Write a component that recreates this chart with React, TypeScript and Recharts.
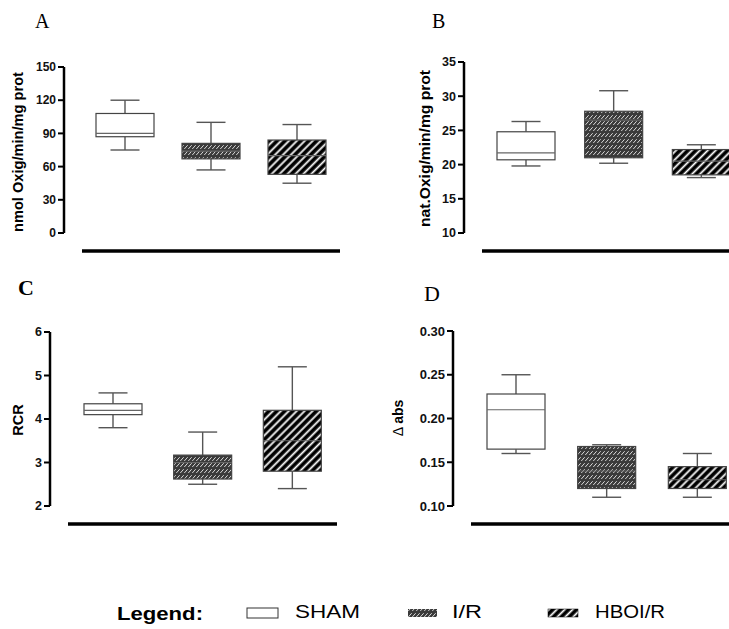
import React from "react"
import { ComposedChart, Bar, XAxis, YAxis } from "recharts"

const GROUPS = ["SHAM", "I/R", "HBOI/R"]

// five-number summaries: [min, q1, median, q3, max]
const A_SHAM = [75, 87, 90, 108, 120]
const A_IR = [57, 67, 74, 81, 100]
const A_HBOIR = [45, 53, 70, 84, 98]

const B_SHAM = [19.8, 20.7, 21.7, 24.8, 26.3]
const B_IR = [20.2, 21, 26.5, 27.8, 30.8]
const B_HBOIR = [18.1, 18.5, 20.5, 22.2, 22.9]

const C_SHAM = [3.8, 4.1, 4.2, 4.35, 4.6]
const C_IR = [2.5, 2.62, 3.0, 3.17, 3.7]
const C_HBOIR = [2.4, 2.8, 3.5, 4.2, 5.2]

const D_SHAM = [0.16, 0.165, 0.21, 0.228, 0.25]
const D_IR = [0.11, 0.12, 0.14, 0.168, 0.17]
const D_HBOIR = [0.11, 0.12, 0.13, 0.145, 0.16]

const A_TICKS = [0, 30, 60, 90, 120, 150]
const B_TICKS = [10, 15, 20, 25, 30, 35]
const C_TICKS = [2, 3, 4, 5, 6]
const D_TICKS = [0.1, 0.15, 0.2, 0.25, 0.3]

const FILLS: Record<string, string> = {
  SHAM: "#ffffff",
  "I/R": "url(#pat-ir)",
  "HBOI/R": "url(#pat-hboir)",
}

// the y axis sits this far left of the plot, the x bar this far below it
const AXIS_GAP = 18

const sans = "Liberation Sans, Arial, sans-serif"
const serif = "Liberation Serif, Times New Roman, serif"

const toRows = (sets: number[][]) =>
  GROUPS.map((group, i) => {
    const [min, q1, med, q3, max] = sets[i]
    return { group, min, q1, med, q3, max, box: [q1, q3] }
  })

function BoxShape(props: any) {
  const { x, y, width, height, payload } = props
  const top = Math.min(y, y + height)
  const h = Math.abs(height)
  const k = h / (payload.q3 - payload.q1)
  const cx = x + width / 2
  const yMax = top - (payload.max - payload.q3) * k
  const yMin = top + h + (payload.q1 - payload.min) * k
  const yMed = top + (payload.q3 - payload.med) * k
  const cap = width * 0.25
  const ws = { stroke: "#555", strokeWidth: 1.4 }
  return (
    <g>
      <line x1={cx} x2={cx} y1={yMax} y2={top} {...ws} />
      <line x1={cx} x2={cx} y1={top + h} y2={yMin} {...ws} />
      <line x1={cx - cap} x2={cx + cap} y1={yMax} y2={yMax} {...ws} />
      <line x1={cx - cap} x2={cx + cap} y1={yMin} y2={yMin} {...ws} />
      <rect x={x} y={top} width={width} height={h} fill={FILLS[payload.group]} stroke="#444" strokeWidth={1.2} />
      <line x1={x} x2={x + width} y1={yMed} y2={yMed} stroke="#666" strokeWidth={1.2} />
    </g>
  )
}

interface PanelProps {
  rows: any[]
  ticks: number[]
  left: number
  top: number
  width: number
  height: number
  axisWidth: number
  margin: { top: number; right: number; bottom: number; left: number }
  fontSize: number
  fmt?: (v: number) => string
}

function BoxPanel({ rows, ticks, left, top, width, height, axisWidth, margin, fontSize, fmt }: PanelProps) {
  const renderTick = (p: any) => (
    <text
      x={p.x - AXIS_GAP}
      y={p.y}
      dy="0.355em"
      textAnchor="end"
      fill="#111"
      fontSize={fontSize}
      fontWeight="bold"
      fontFamily={sans}
    >
      {fmt ? fmt(p.payload.value) : p.payload.value}
    </text>
  )
  return (
    <div style={{ position: "absolute", left, top }}>
      <ComposedChart width={width} height={height} data={rows} margin={margin}>
        <XAxis
          dataKey="group"
          height={1}
          tick={false}
          tickLine={false}
          axisLine={{ stroke: "#000", strokeWidth: 3.5 }}
        />
        <YAxis
          type="number"
          width={axisWidth}
          domain={[ticks[0], ticks[ticks.length - 1]]}
          ticks={ticks}
          interval={0}
          tickSize={6}
          tickMargin={2}
          axisLine={{ stroke: "#000", strokeWidth: 2.5 }}
          tickLine={{ stroke: "#000", strokeWidth: 2 }}
          tick={renderTick}
        />
        <Bar dataKey="box" barSize={58} shape={<BoxShape />} isAnimationActive={false} />
      </ComposedChart>
    </div>
  )
}

export default function App() {
  return (
    <div
      style={{
        position: "fixed",
        left: 0,
        top: 0,
        width: 729,
        height: 629,
        overflow: "hidden",
        background: "#fff",
      }}
    >
      <style>{`.recharts-yAxis .recharts-cartesian-axis-line, .recharts-yAxis .recharts-cartesian-axis-tick-line{transform:translateX(-${AXIS_GAP}px)} .recharts-xAxis{transform:translateY(${AXIS_GAP}px)}`}</style>

      <BoxPanel
        rows={toRows([A_SHAM, A_IR, A_HBOIR])}
        ticks={A_TICKS}
        left={0}
        top={0}
        width={365}
        height={260}
        axisWidth={82}
        margin={{ top: 67, right: 25, bottom: 26, left: 0 }}
        fontSize={12}
      />
      <BoxPanel
        rows={toRows([B_SHAM, B_IR, B_HBOIR])}
        ticks={B_TICKS}
        left={365}
        top={0}
        width={405}
        height={260}
        axisWidth={117}
        margin={{ top: 62, right: 25, bottom: 26, left: 0 }}
        fontSize={12.5}
      />
      <BoxPanel
        rows={toRows([C_SHAM, C_IR, C_HBOIR])}
        ticks={C_TICKS}
        left={0}
        top={270}
        width={365}
        height={300}
        axisWidth={68}
        margin={{ top: 62, right: 28, bottom: 63, left: 0 }}
        fontSize={12.5}
      />
      <BoxPanel
        rows={toRows([D_SHAM, D_IR, D_HBOIR])}
        ticks={D_TICKS}
        left={365}
        top={270}
        width={405}
        height={300}
        axisWidth={106}
        margin={{ top: 61, right: 27, bottom: 63, left: 0 }}
        fontSize={13}
        fmt={(v) => v.toFixed(2)}
      />

      <svg
        width={729}
        height={629}
        style={{ position: "absolute", left: 0, top: 0, pointerEvents: "none" }}
      >
        <defs>
          <pattern id="pat-ir" patternUnits="userSpaceOnUse" width={4} height={6}>
            <rect width={4} height={6} fill="#3a3a3a" />
            <line x1={0.3} y1={5} x2={3.7} y2={1.2} stroke="#d6d6d6" strokeWidth={1} />
          </pattern>
          <pattern id="pat-hboir" patternUnits="userSpaceOnUse" width={5.6} height={5.6} patternTransform="rotate(45)">
            <rect width={5.6} height={5.6} fill="#000" />
            <line x1={1.5} y1={0} x2={1.5} y2={5.6} stroke="#fff" strokeWidth={1.8} />
          </pattern>
        </defs>

        <text x={35} y={28} fontFamily={serif} fontSize={20}>A</text>
        <text x={432} y={28} fontFamily={serif} fontSize={20}>B</text>
        <text x={18} y={295} fontFamily={serif} fontSize={22} fontWeight="bold">C</text>
        <text x={424} y={301} fontFamily={serif} fontSize={22}>D</text>

        <text transform="translate(18,152) rotate(-90)" textAnchor="middle" dy="0.35em" fontFamily={sans} fontSize={14} fontWeight="bold" textLength={160} lengthAdjust="spacingAndGlyphs">
          nmol Oxig/min/mg prot
        </text>
        <text transform="translate(425,148.5) rotate(-90)" textAnchor="middle" dy="0.35em" fontFamily={sans} fontSize={14} fontWeight="bold" textLength={157} lengthAdjust="spacingAndGlyphs">
          nat.Oxig/min/mg prot
        </text>
        <text transform="translate(18,420) rotate(-90)" textAnchor="middle" dy="0.35em" fontFamily={sans} fontSize={14.5} fontWeight="bold">
          RCR
        </text>
        <text transform="translate(398,418) rotate(-90)" textAnchor="middle" dy="0.35em" fontFamily={sans} fontSize={14}>
          <tspan>Δ </tspan>
          <tspan fontWeight="bold">abs</tspan>
        </text>

        <text x={117} y={620} fontFamily={sans} fontSize={19} fontWeight="bold" textLength={86} lengthAdjust="spacingAndGlyphs">
          Legend:
        </text>
        <rect x={247} y={608} width={31} height={10} fill="#fff" stroke="#333" strokeWidth={1} />
        <text x={295} y={618} fontFamily={sans} fontSize={19} textLength={65} lengthAdjust="spacingAndGlyphs">SHAM</text>
        <rect x={408} y={609} width={29} height={8} fill="url(#pat-ir)" />
        <text x={452} y={618} fontFamily={sans} fontSize={19} textLength={30} lengthAdjust="spacingAndGlyphs">I/R</text>
        <rect x={548} y={609} width={30} height={8} fill="url(#pat-hboir)" stroke="#000" strokeWidth={0.5} />
        <text x={595} y={618} fontFamily={sans} fontSize={19} textLength={70} lengthAdjust="spacingAndGlyphs">HBOI/R</text>
      </svg>
    </div>
  )
}
